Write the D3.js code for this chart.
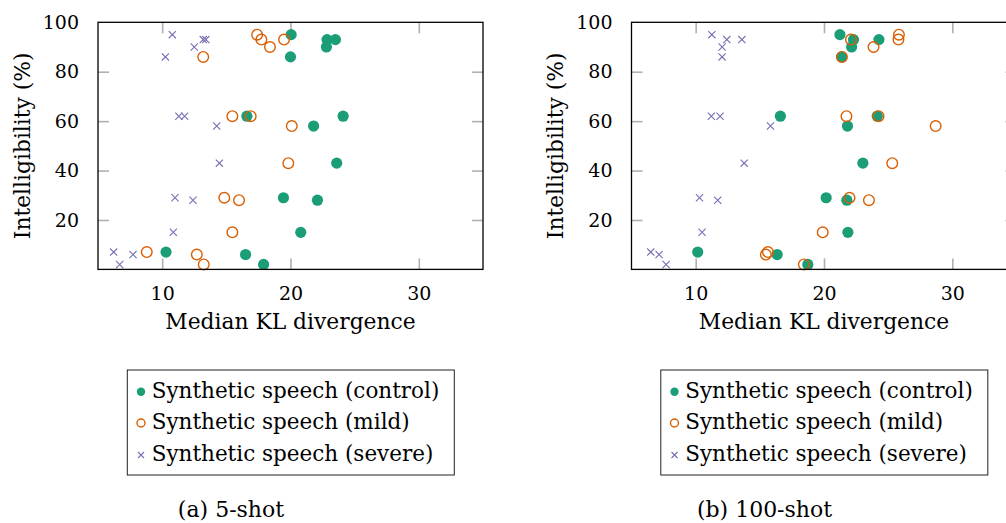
<!DOCTYPE html>
<html>
<head>
<meta charset="utf-8">
<script src="https://cdn.jsdelivr.net/npm/d3@7"></script>
<style>
  html, body { margin: 0; padding: 0; background: #fff; }
  svg { display: block; }
  text { font-family: "DejaVu Serif", serif; fill: #000; }
</style>
</head>
<body>
<svg id="chart" width="1006" height="523"></svg>
<script>
// Intelligibility (%) of each evaluated speaker (shared by all series)
const intelligibility = [95, 93, 93, 90, 86, 62, 62, 58, 43, 29, 28, 15, 7, 6, 2];

// 5-shot: median KL divergence per speaker
const shot5Control = [20.05, 22.85, 23.5, 22.8, 20.0, 16.6, 24.1, 21.8, 23.6, 19.45, 22.1, 20.8, 10.3, 16.5, 17.9];
const shot5Mild    = [17.4, 17.73, 19.5, 18.4, 13.2, 15.47, 16.9, 20.1, 19.83, 14.84, 15.99, 15.47, 8.8, 12.7, 13.24];
const shot5Severe  = [10.79, 13.2, 13.4, 12.5, 10.25, 11.3, 11.75, 14.25, 14.46, 11.0, 12.4, 10.87, 6.22, 7.73, 6.69];

// 100-shot: median KL divergence per speaker
const shot100Control = [21.24, 22.3, 24.28, 22.15, 21.37, 16.6, 24.15, 21.83, 23.03, 20.17, 21.78, 21.86, 10.16, 16.35, 18.74];
const shot100Mild    = [25.84, 22.1, 25.8, 23.86, 21.4, 21.75, 24.25, 28.7, 25.32, 21.99, 23.5, 19.9, 15.63, 15.47, 18.43];
const shot100Severe  = [11.26, 12.43, 13.6, 12.06, 12.06, 11.22, 11.9, 15.83, 13.78, 10.3, 11.72, 10.5, 6.5, 7.15, 7.7];

const xTicks = [10, 20, 30];
const yTicks = [20, 40, 60, 80, 100];
const seriesNames = ["Synthetic speech (control)", "Synthetic speech (mild)", "Synthetic speech (severe)"];
const captions = ["(a) 5-shot", "(b) 100-shot"];

const colors = { control: "#1b9e77", mild: "#d95f02", severe: "#7570b3" };

const svg = d3.select("#chart");

function marker(g, kind, x, y, big) {
  if (kind === "control") {
    g.append("circle").attr("cx", x).attr("cy", y).attr("r", big ? 5.6 : 4.2)
      .attr("fill", colors.control);
  } else if (kind === "mild") {
    g.append("circle").attr("cx", x).attr("cy", y).attr("r", big ? 5.3 : 4.0)
      .attr("fill", "none").attr("stroke", colors.mild).attr("stroke-width", 1.4);
  } else {
    const s = big ? 3.6 : 3.0;
    g.append("path")
      .attr("d", `M${x - s},${y - s}L${x + s},${y + s}M${x - s},${y + s}L${x + s},${y - s}`)
      .attr("stroke", colors.severe).attr("stroke-width", 1.1).attr("fill", "none");
  }
}

function panel(ox, control, mild, severe, caption) {
  const left = ox, top = 22.3, width = 385, height = 247.1;
  const x = d3.scaleLinear().domain([5, 35]).range([left, left + width]);
  const y = d3.scaleLinear().domain([0, 100]).range([top + height, top]);
  const g = svg.append("g");

  // inward-facing ticks on all four sides
  const tickLen = 11, tickColor = "#b0b0b0";
  const ax = g.append("g");
  ax.append("g").attr("transform", `translate(0,${top + height})`)
    .call(d3.axisBottom(x).tickValues(xTicks).tickSizeInner(-tickLen).tickSizeOuter(0).tickPadding(tickLen + 6));
  ax.append("g").attr("transform", `translate(0,${top})`)
    .call(d3.axisTop(x).tickValues(xTicks).tickSizeInner(-tickLen).tickSizeOuter(0).tickFormat(""));
  ax.append("g").attr("transform", `translate(${left},0)`)
    .call(d3.axisLeft(y).tickValues(yTicks).tickSizeInner(-tickLen).tickSizeOuter(0).tickPadding(tickLen + 8));
  ax.append("g").attr("transform", `translate(${left + width},0)`)
    .call(d3.axisRight(y).tickValues(yTicks).tickSizeInner(-tickLen).tickSizeOuter(0).tickFormat(""));
  ax.selectAll(".domain").remove();
  ax.selectAll(".tick line").attr("stroke", tickColor).attr("stroke-width", 1.6);
  ax.selectAll(".tick").filter(d => d === 100).select("line").remove();
  ax.selectAll(".tick text").attr("font-family", "DejaVu Serif").attr("font-size", 19).attr("fill", "#000");

  // markers
  const pts = g.append("g");
  control.forEach((v, i) => marker(pts, "control", x(v), y(intelligibility[i]), true));
  mild.forEach((v, i) => marker(pts, "mild", x(v), y(intelligibility[i]), true));
  severe.forEach((v, i) => marker(pts, "severe", x(v), y(intelligibility[i]), true));

  // frame
  g.append("rect").attr("x", left).attr("y", top).attr("width", width).attr("height", height)
    .attr("fill", "none").attr("stroke", "#000").attr("stroke-width", 1.3);

  // axis titles
  g.append("text").attr("x", left + width / 2).attr("y", 329.3).attr("text-anchor", "middle")
    .attr("font-size", 21.8).text("Median KL divergence");
  g.append("text").attr("transform", `translate(${left - 68.5},${top + height / 2}) rotate(-90)`)
    .attr("text-anchor", "middle").attr("font-size", 21.8).text("Intelligibility (%)");

  // legend
  const lg = g.append("g");
  const lx = left + 29.3;
  lg.append("rect").attr("x", lx).attr("y", 370).attr("width", 327).attr("height", 105)
    .attr("fill", "#fff").attr("stroke", "#222").attr("stroke-width", 1);
  const kinds = ["control", "mild", "severe"];
  const rowsY = [391.7, 423, 455];
  kinds.forEach((k, i) => {
    marker(lg, k, lx + 13.7, rowsY[i], false);
    lg.append("text").attr("x", lx + 24.4).attr("y", rowsY[i] + 6.3)
      .attr("font-size", 21.5).text(seriesNames[i]);
  });

  // caption
  g.append("text").attr("x", left + 133).attr("y", 517).attr("text-anchor", "middle")
    .attr("font-size", 22).text(caption);
}

panel(98, shot5Control, shot5Mild, shot5Severe, captions[0]);
panel(631.5, shot100Control, shot100Mild, shot100Severe, captions[1]);
</script>
</body>
</html>
